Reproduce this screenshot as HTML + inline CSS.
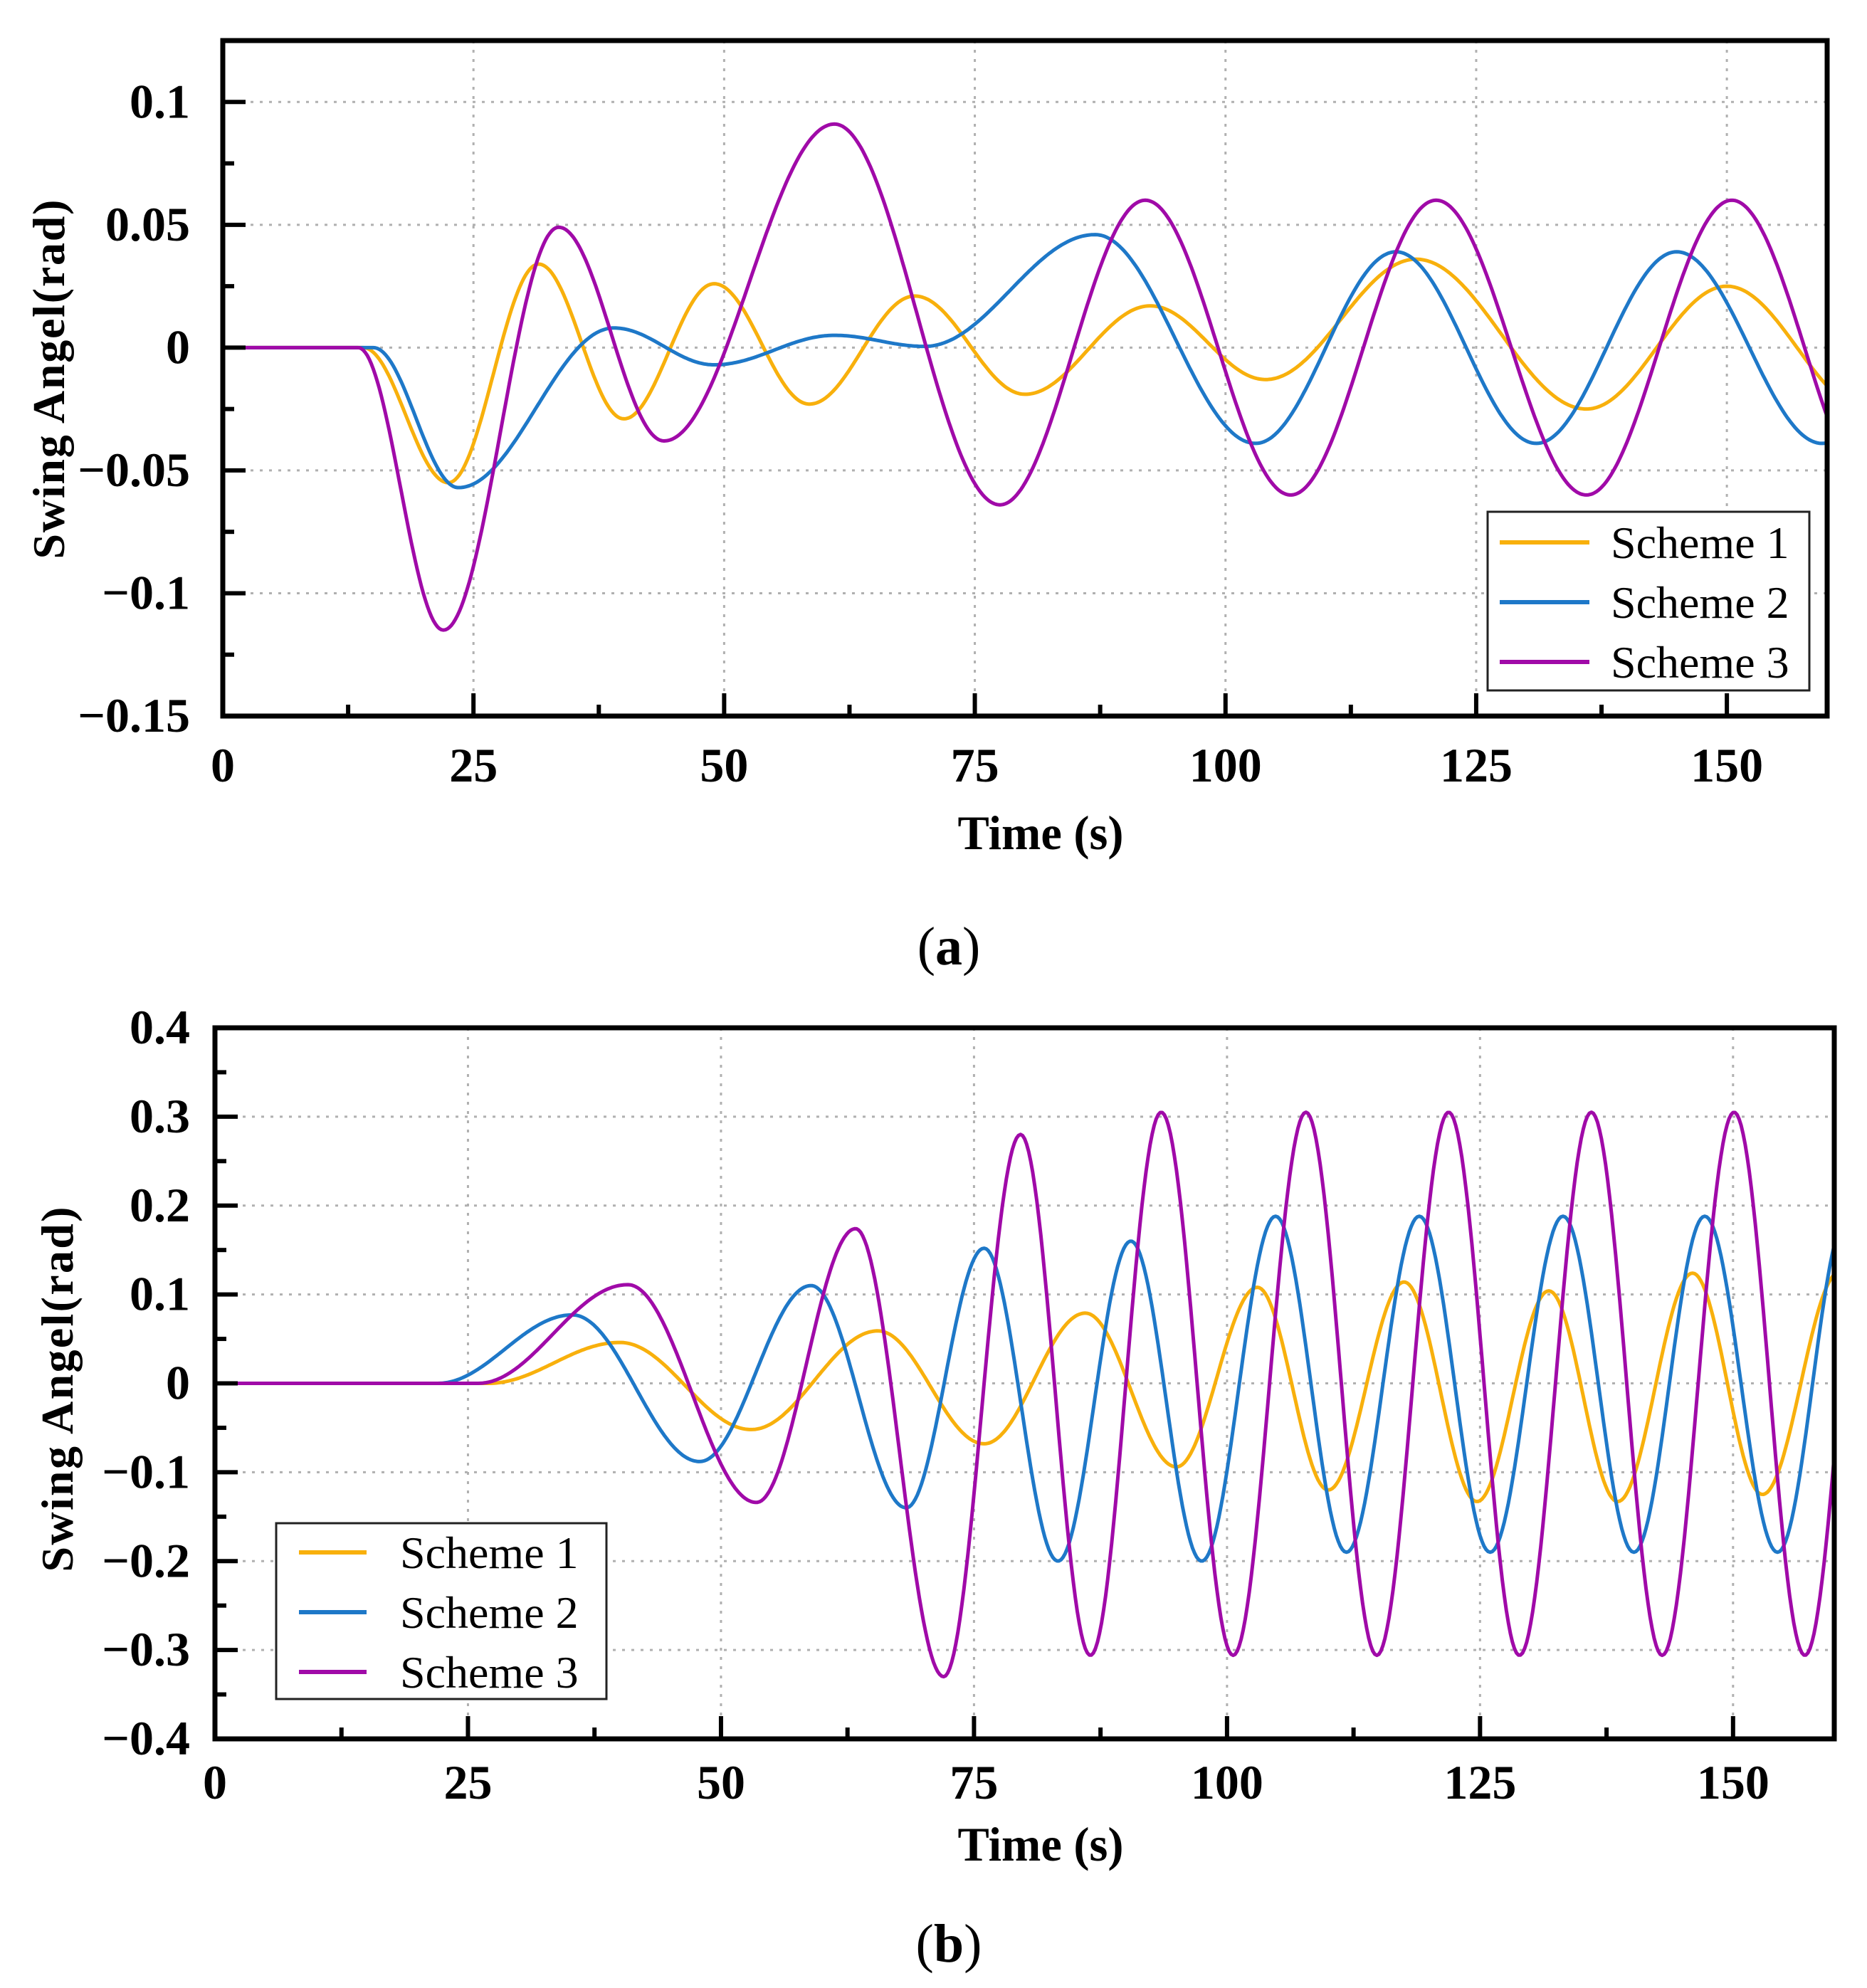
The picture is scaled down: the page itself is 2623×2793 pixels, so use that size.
<!DOCTYPE html>
<html><head><meta charset="utf-8"><style>
html,body{margin:0;padding:0;background:#fff;}
svg{display:block;font-family:"Liberation Serif",serif;}
</style></head><body>
<svg id="fig" width="2623" height="2793" viewBox="0 0 2623 2793" xmlns="http://www.w3.org/2000/svg">
<defs>
<clipPath id="clipA"><rect x="313" y="57" width="2254" height="949"/></clipPath>
<clipPath id="clipB"><rect x="302" y="1444" width="2275" height="999"/></clipPath>
</defs>
</svg>
<script>
// Panel (a) data: extrema [time, value]
const timesA1 = [0, 14, 22.5, 31.5, 40, 49, 58.5, 69, 80, 92.5, 104, 119, 136, 150, 164];
const valsA1  = [0, 0, -0.055, 0.034, -0.029, 0.026, -0.023, 0.021, -0.019, 0.017, -0.013, 0.036, -0.025, 0.025, -0.025];
const timesA2 = [0, 15, 23.5, 39, 49, 61, 70, 87, 103, 117, 131, 145, 159.5, 173.5];
const valsA2  = [0, 0, -0.057, 0.008, -0.007, 0.005, 0.0005, 0.046, -0.039, 0.039, -0.039, 0.039, -0.039, 0.039];
const timesA3 = [0, 13.5, 22, 33.5, 44, 61, 77.5, 92, 106.5, 121, 136, 150.5, 165];
const valsA3  = [0, 0, -0.115, 0.049, -0.038, 0.091, -0.064, 0.060, -0.060, 0.060, -0.060, 0.060, -0.060];
// Panel (b) data
const timesB1 = [0, 27, 40, 53, 65.5, 76, 86, 95, 103, 110, 117.5, 124.7, 131.8, 138.6, 146, 152.9, 160.5];
const valsB1  = [0, 0, 0.046, -0.052, 0.059, -0.068, 0.079, -0.094, 0.108, -0.12, 0.114, -0.133, 0.104, -0.133, 0.124, -0.125, 0.125];
const timesB2 = [0, 22, 35.3, 47.9, 58.9, 68.3, 76, 83.3, 90.5, 97.5, 104.8, 111.8, 119, 126, 133.2, 140.2, 147.2, 154.4, 161.3];
const valsB2  = [0, 0, 0.077, -0.088, 0.11, -0.14, 0.152, -0.2, 0.16, -0.2, 0.188, -0.19, 0.188, -0.19, 0.188, -0.19, 0.188, -0.19, 0.188];
const timesB3 = [0, 26, 40.8, 53.5, 63.3, 72, 79.6, 86.5, 93.5, 100.6, 107.8, 114.8, 121.9, 128.9, 136, 143, 150.1, 157.1, 164.1];
const valsB3  = [0, 0, 0.111, -0.134, 0.174, -0.33, 0.28, -0.306, 0.305, -0.306, 0.305, -0.306, 0.305, -0.306, 0.305, -0.306, 0.305, -0.306, 0.305];
const xTicks = [0, 25, 50, 75, 100, 125, 150];
const yTicksA = [-0.15, -0.1, -0.05, 0, 0.05, 0.1];
const yLabelsA = ["\u22120.15", "\u22120.1", "\u22120.05", "0", "0.05", "0.1"];
const yTicksB = [-0.4, -0.3, -0.2, -0.1, 0, 0.1, 0.2, 0.3, 0.4];
const yLabelsB = ["\u22120.4", "\u22120.3", "\u22120.2", "\u22120.1", "0", "0.1", "0.2", "0.3", "0.4"];
const seriesNames = ["Scheme 1", "Scheme 2", "Scheme 3"];

const NS = "http://www.w3.org/2000/svg";
const svg = document.getElementById("fig");
const COLORS = ["#F8B00C", "#1E78C8", "#A00AA8"];
function mk(tag, attrs, parent) {
  const e = document.createElementNS(NS, tag);
  for (const k in attrs) e.setAttribute(k, attrs[k]);
  (parent || svg).appendChild(e);
  return e;
}
function interp(ts, vs, t) {
  if (t <= ts[0]) return vs[0];
  for (let i = 0; i < ts.length - 1; i++) {
    if (t <= ts[i + 1]) {
      const f = (t - ts[i]) / (ts[i + 1] - ts[i]);
      const w = (1 - Math.cos(Math.PI * f)) / 2;
      return vs[i] + (vs[i + 1] - vs[i]) * w;
    }
  }
  return vs[vs.length - 1];
}
function panel(cfg) {
  const g = mk("g", {});
  
  
  const X = t => cfg.L + (t - 0) / 160 * (cfg.R - cfg.L);
  const Y = v => cfg.B - (v - cfg.ymin) / (cfg.ymax - cfg.ymin) * (cfg.B - cfg.T);
  xTicks.forEach(t => {
    if (t === 0) return;
    const l = mk("line", {x1: X(t), x2: X(t), y1: cfg.T, y2: cfg.B, stroke: "#b0b0b0", "stroke-width": 3, "stroke-dasharray": "4 9"}, g);
    
    
  });
  cfg.yticks.forEach(v => {
    if (v === cfg.ymin || v === cfg.ymax) return;
    const l = mk("line", {x1: cfg.L, x2: cfg.R, y1: Y(v), y2: Y(v), stroke: "#b0b0b0", "stroke-width": 3, "stroke-dasharray": "4 9"}, g);
    
    
  });
  cfg.series.forEach((s, i) => {
    let d = "";
    for (let t = 0; t <= 160.01; t += 0.2) {
      d += (t === 0 ? "M" : "L") + X(t).toFixed(1) + "," + Y(interp(s[0], s[1], t)).toFixed(1);
    }
    const p = mk("path", {d: d, fill: "none", stroke: COLORS[i], "stroke-width": 5, "clip-path": cfg.clip, "stroke-linejoin": "round"}, g);
    
    
  });
  const ax = mk("g", {stroke: "#000", "stroke-width": 6}, g);
  
  
  for (let t = 0; t <= 160; t += 12.5) {
    const major = (t % 25 === 0);
    mk("line", {x1: X(t), x2: X(t), y1: cfg.B, y2: cfg.B - (major ? 32 : 16)}, ax);
  }
  const step = cfg.yticks[1] - cfg.yticks[0];
  for (let v = cfg.ymin; v <= cfg.ymax + 1e-9; v += step / 2) {
    const k = Math.round((v - cfg.ymin) / (step / 2));
    mk("line", {x1: cfg.L, x2: cfg.L + (k % 2 === 0 ? 32 : 16), y1: Y(v), y2: Y(v)}, ax);
  }
  const fr = mk("rect", {x: cfg.L, y: cfg.T, width: cfg.R - cfg.L, height: cfg.B - cfg.T, fill: "none", stroke: "#000", "stroke-width": 7}, g);
  
  
  xTicks.forEach(t => {
    const tx = mk("text", {x: X(t), y: cfg.xLabY, "text-anchor": "middle", "font-size": 68, "font-weight": "bold"}, g);
    tx.textContent = String(t);
    
    
  });
  cfg.yticks.forEach((v, i) => {
    const tx = mk("text", {x: 267, y: Y(v) + 22, "text-anchor": "end", "font-size": 68, "font-weight": "bold"}, g);
    tx.textContent = cfg.ylabels[i];
    
    
  });
  const xt = mk("text", {x: 1462, y: cfg.xTitleY, "text-anchor": "middle", "font-size": 68, "font-weight": "bold", textLength: 233, lengthAdjust: "spacingAndGlyphs"}, g);
  xt.textContent = "Time (s)";
  
  
  const yt = mk("text", {x: 0, y: 0, "text-anchor": "middle", "font-size": 64, "font-weight": "bold", textLength: cfg.yTitleLen, lengthAdjust: "spacing", transform: "translate(" + cfg.yTitleX + "," + cfg.yTitleY + ") rotate(-90)"}, g);
  yt.textContent = "Swing Angel(rad)";
  
  
  const lg = mk("g", {}, g);
  
  
  mk("rect", {x: cfg.lg.x, y: cfg.lg.y, width: cfg.lg.w, height: cfg.lg.h, fill: "#fff", stroke: "#222", "stroke-width": 3}, lg);
  seriesNames.forEach((n, i) => {
    const ry = cfg.lg.rows[i];
    const ln = mk("line", {x1: cfg.lg.lx1, x2: cfg.lg.lx2, y1: ry, y2: ry, stroke: COLORS[i], "stroke-width": 6}, lg);
    
    
    const tx = mk("text", {x: cfg.lg.tx, y: ry + 22, "font-size": 64}, lg);
    tx.textContent = n;
    
    
  });
  const cap = mk("text", {x: 1333, y: cfg.capY, "text-anchor": "middle", "font-size": 76}, g);
  cap.innerHTML = '(<tspan font-weight="bold">' + cfg.cap + '</tspan>)';
  
  
}
panel({name: "panel-a", L: 313, R: 2567, T: 57, B: 1006, ymin: -0.15, ymax: 0.125, yticks: yTicksA, ylabels: yLabelsA,
  clip: "url(#clipA)", xLabY: 1098, xTitleY: 1193, yTitleX: 90, yTitleY: 533, yTitleLen: 505,
  series: [[timesA1, valsA1], [timesA2, valsA2], [timesA3, valsA3]],
  lg: {x: 2090, y: 719, w: 452, h: 251, lx1: 2107, lx2: 2233, tx: 2263, rows: [762, 846, 930]},
  capY: 1355, cap: "a"});
panel({name: "panel-b", L: 302, R: 2577, T: 1444, B: 2443, ymin: -0.4, ymax: 0.4, yticks: yTicksB, ylabels: yLabelsB,
  clip: "url(#clipB)", xLabY: 2527, xTitleY: 2614, yTitleX: 102, yTitleY: 1952, yTitleLen: 513,
  series: [[timesB1, valsB1], [timesB2, valsB2], [timesB3, valsB3]],
  lg: {x: 388, y: 2140, w: 464, h: 247, lx1: 420, lx2: 515, tx: 562, rows: [2181, 2265, 2349]},
  capY: 2756, cap: "b"});
</script>
</body></html>
